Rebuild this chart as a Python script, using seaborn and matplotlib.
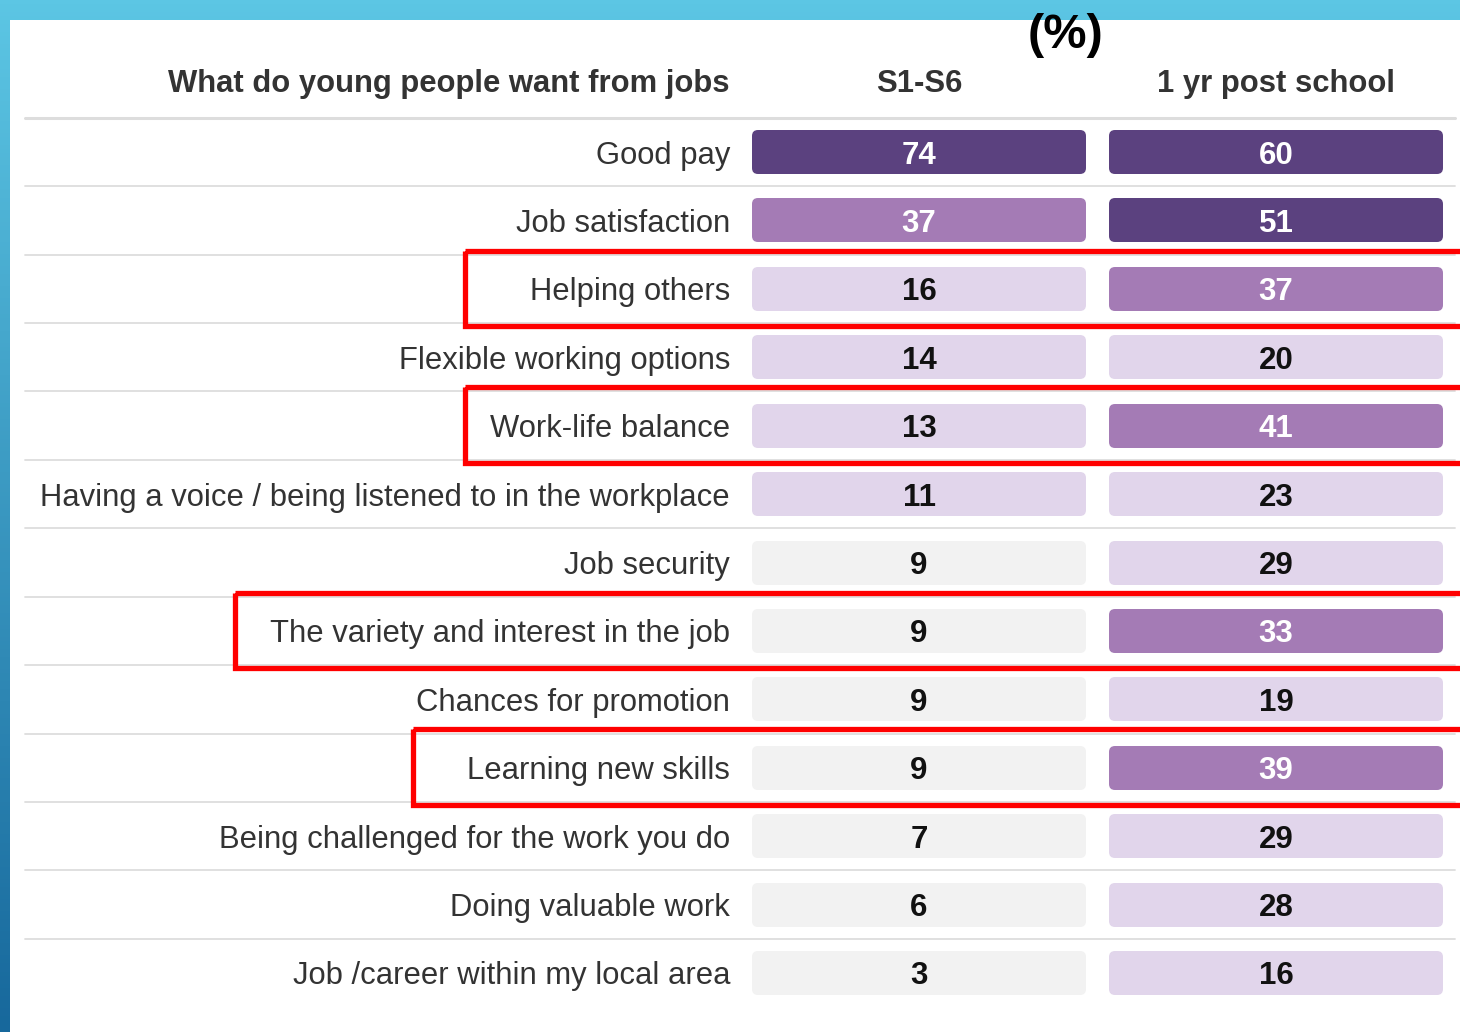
import numpy as np
import pandas as pd
import matplotlib
matplotlib.use("Agg")
import matplotlib.pyplot as plt
import matplotlib.transforms as mtransforms
from matplotlib.colors import ListedColormap, BoundaryNorm
from matplotlib.patches import FancyBboxPatch, PathPatch, Rectangle
from matplotlib.path import Path
from matplotlib import font_manager
import seaborn as sns

# ---------------- data ----------------
categories = [
    "Good pay",
    "Job satisfaction",
    "Helping others",
    "Flexible working options",
    "Work-life balance",
    "Having a voice / being listened to in the workplace",
    "Job security",
    "The variety and interest in the job",
    "Chances for promotion",
    "Learning new skills",
    "Being challenged for the work you do",
    "Doing valuable work",
    "Job /career within my local area",
]
s1_s6 = [74, 37, 16, 14, 13, 11, 9, 9, 9, 9, 7, 6, 3]
post_school = [60, 51, 37, 20, 41, 23, 29, 33, 19, 39, 29, 28, 16]
column_labels = ["S1-S6", "1 yr post school"]
header_label = "What do young people want from jobs"
unit_label = "(%)"
highlighted = ["Helping others", "Work-life balance",
               "The variety and interest in the job", "Learning new skills"]

# ---------------- style ----------------
W, H, DPI = 1460, 1032, 100
sns.set_theme(style="white")
plt.rcParams["font.family"] = ["Liberation Sans", "DejaVu Sans"]

installed = {f.name for f in font_manager.fontManager.ttflist}
narrow = [f for f in ["Liberation Sans Narrow", "Arial Narrow"] if f in installed]
value_family = narrow + ["Liberation Sans", "DejaVu Sans"]
value_size = 25 if narrow else 22.5

band_colors = ["#F2F2F2", "#E1D5EB", "#A47BB5", "#5B417F"]
band_edges = [0, 10, 30, 50, 101]
text_colors = ["#111111", "#111111", "white", "white"]
label_color = "#333333"
line_color = "#DDDDDD"
red = "#FF0000"
box_left_px = {"Helping others": 465, "Work-life balance": 465,
               "The variety and interest in the job": 235,
               "Learning new skills": 413}

df = pd.DataFrame({column_labels[0]: s1_s6, column_labels[1]: post_school},
                  index=categories)

fig = plt.figure(figsize=(W / DPI, H / DPI), dpi=DPI)

# background frame: blue gradient with white panel
bg = fig.add_axes([0, 0, 1, 1])
bg.set_xlim(0, W)
bg.set_ylim(H, 0)
bg.axis("off")
grad = np.linspace(0, 1, 256).reshape(-1, 1)
top_c = np.array([0x5C, 0xC6, 0xE4]) / 255
bot_c = np.array([0x17, 0x68, 0x9C]) / 255
img = top_c[None, None, :] * (1 - grad[..., None]) + bot_c[None, None, :] * grad[..., None]
bg.imshow(img, extent=[0, W, H, 0], aspect="auto", zorder=0)
bg.add_patch(Rectangle((10, 20), W - 10, H - 20, facecolor="white",
                       edgecolor="none", zorder=1))

# table axes
left_px, right_px = 740.5, 1454.5
top_px, bot_px = 117.8, 1007.2
px_x = right_px - left_px
px_y = (bot_px - top_px) / len(categories)
ax = fig.add_axes([left_px / W, 1 - bot_px / H,
                   (right_px - left_px) / W, (bot_px - top_px) / H])
ax.patch.set_alpha(0)

cmap = ListedColormap(band_colors)
norm = BoundaryNorm(band_edges, cmap.N)
sns.heatmap(df, ax=ax, cmap=cmap, norm=norm, cbar=False, annot=False)
mesh = ax.collections[0]

# rounded-cell clip path
cell_w, cell_h = 334 / (px_x / 2), 44 / px_y
rx = 6 / (px_x / 2)
ry = 6 / px_y
verts, codes = [], []
for r in range(len(categories)):
    for c in range(len(column_labels)):
        p = FancyBboxPatch((c + (1 - cell_w) / 2, r + (1 - cell_h) / 2),
                           cell_w, cell_h,
                           boxstyle=f"round,pad=0,rounding_size={rx}",
                           mutation_aspect=ry / rx)
        path = p.get_path().transformed(p.get_patch_transform())
        verts.append(path.vertices)
        codes.append(path.codes)
clip = Path(np.concatenate(verts), np.concatenate(codes))
clip_patch = PathPatch(clip, transform=ax.transData, facecolor="none", edgecolor="none")
ax.add_patch(clip_patch)
mesh.set_clip_path(clip_patch)

# cell values
for r, cat in enumerate(categories):
    for c, col in enumerate(column_labels):
        v = df.loc[cat, col]
        band = np.searchsorted(band_edges, v, side="right") - 1
        ax.text(c + 0.5, r + 0.5, f"{v}", ha="center", va="center_baseline",
                fontsize=value_size, fontweight="bold", color=text_colors[band],
                family=value_family)

# axes styling
ax.set_xticks([])
ax.set_yticks(np.arange(len(categories)) + 0.5)
ax.set_yticklabels(categories, fontsize=22.3, color=label_color,
                   va="center_baseline")
ax.tick_params(axis="y", length=0, pad=7.5)
ax.set_xlabel("")
ax.set_ylabel("")
for s in ax.spines.values():
    s.set_visible(False)

# headers
blend = mtransforms.blended_transform_factory(fig.transFigure, ax.transData)
ax.text(729 / W, -0.55, header_label, transform=blend, ha="right",
        va="center_baseline", fontsize=22.3, fontweight="bold", color=label_color)
for c, col in enumerate(column_labels):
    ax.text(c + 0.5, -0.55, col, ha="center", va="center_baseline",
            fontsize=22.3, fontweight="bold", color=label_color)
fig.text(1065 / W, 1 - 35 / H, unit_label, ha="center", va="center",
         fontsize=35, fontweight="bold", color="black")

# separator lines
for y in range(len(categories)):
    lw = 2.2 if y == 0 else 1.3
    ax.plot([25 / W, 1455 / W], [y, y], transform=blend, color=line_color,
            lw=lw, clip_on=False, zorder=0.5)

# red highlight boxes
for cat in highlighted:
    r = categories.index(cat)
    x0 = box_left_px[cat] / W
    rect = Rectangle((x0, r - 0.06), 1.02 - x0, 1.1, transform=blend,
                     facecolor="none", edgecolor=red, lw=3.8, clip_on=False,
                     zorder=5, joinstyle="miter")
    ax.add_patch(rect)

fig.savefig("out.png", dpi=DPI)
